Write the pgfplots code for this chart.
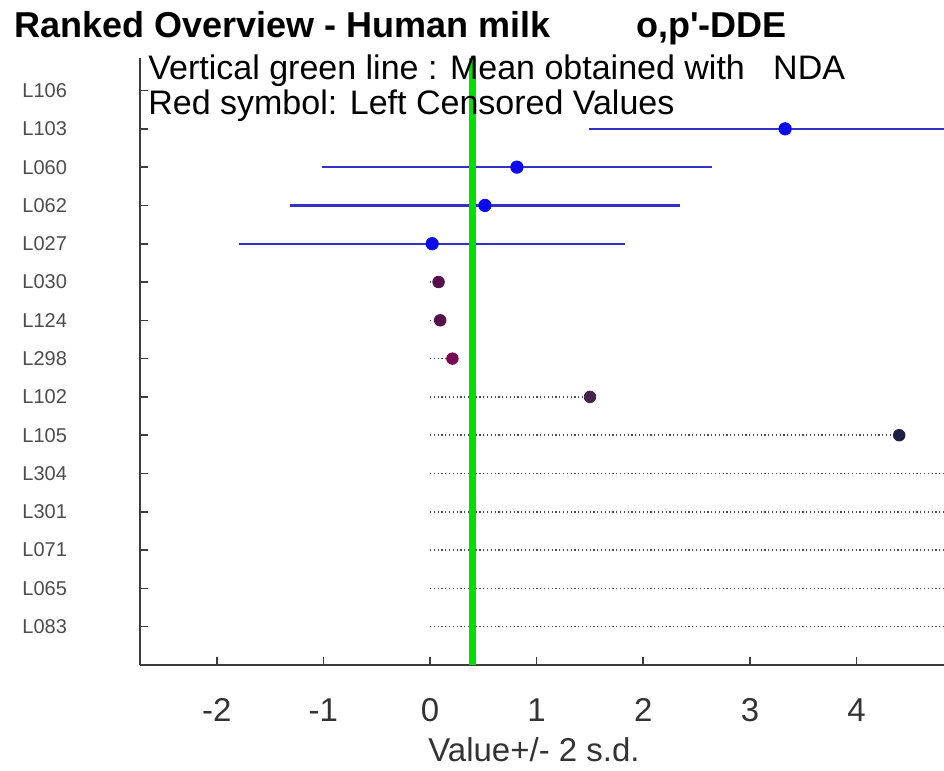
\documentclass[border=0pt]{standalone}
\usepackage{fontspec}
\setmainfont{Liberation Sans}
\usepackage{pgfplots}
\pgfplotsset{compat=1.18}
\definecolor{errblue}{RGB}{50,50,200}
\definecolor{mkblue}{RGB}{10,10,235}
\definecolor{mgreen}{RGB}{0,225,0}
\definecolor{cens1}{RGB}{85,15,75}
\definecolor{cens2}{RGB}{120,10,85}
\definecolor{cens3}{RGB}{65,35,75}
\definecolor{cens4}{RGB}{30,30,65}
\definecolor{axgray}{RGB}{60,60,60}
\pgfplotsset{cdot/.style={black!70, line width=0.8pt, dash pattern=on 0.55pt off 1.35pt}}
\begin{document}
\begin{tikzpicture}
\useasboundingbox (-70pt,-53pt) rectangle (402pt,332.5pt);
\begin{axis}[
  at={(0,0)}, anchor=south west,
  scale only axis, width=402pt, height=303.5pt,
  xmin=-2.72, xmax=4.82, ymin=-1, ymax=14.85,
  axis x line*=bottom, axis y line*=left,
  axis line style={axgray, line width=1pt},
  tick align=inside, major tick length=4pt,
  tick style={axgray, line width=0.8pt},
  xtick={-2,-1,0,1,2,3,4}, xticklabels={-2,-1,0,1,2,3,4},
  xticklabel style={font=\fontsize{16.5}{18}\selectfont, color=black!80, anchor=base, yshift=-28.5pt},
  ytick={0,...,14},
  yticklabels={L083,L065,L071,L301,L304,L105,L102,L298,L124,L030,L027,L062,L060,L103,L106},
  yticklabel style={font=\fontsize{10}{12}\selectfont, color=black!70, xshift=-33pt},
]
% left censored values: dotted lines from 0 to value
\addplot[cdot] coordinates {(0,9) (0.08,9)};
\addplot[cdot] coordinates {(0,8) (0.095,8)};
\addplot[cdot] coordinates {(0,7) (0.21,7)};
\addplot[cdot] coordinates {(0,6) (1.5,6)};
\addplot[cdot] coordinates {(0,5) (4.40,5)};
\addplot[cdot] coordinates {(0,4) (4.82,4)};
\addplot[cdot] coordinates {(0,3) (4.82,3)};
\addplot[cdot] coordinates {(0,2) (4.82,2)};
\addplot[cdot] coordinates {(0,1) (4.82,1)};
\addplot[cdot] coordinates {(0,0) (4.82,0)};
% +/- 2 s.d. bars
\addplot[draw=none, mark=none, error bars/.cd, x dir=both, x explicit, error mark=none,
  error bar style={draw=errblue, line width=1.1pt}]
  coordinates {(3.33,13) +- (1.84,0) (0.815,12) +- (1.83,0) (0.515,11) +- (1.83,0) (0.02,10) +- (1.81,0)};
% mean line
\addplot[mgreen, line width=3.8pt] coordinates {(0.40,-1) (0.40,14.85)};
% values
\addplot[only marks, mark=*, mark size=3.1pt, mkblue] coordinates {(3.33,13) (0.815,12) (0.515,11) (0.02,10)};
\addplot[only marks, mark=*, mark size=2.9pt, cens1] coordinates {(0.08,9) (0.095,8)};
\addplot[only marks, mark=*, mark size=2.9pt, cens2] coordinates {(0.21,7)};
\addplot[only marks, mark=*, mark size=2.9pt, cens3] coordinates {(1.5,6)};
\addplot[only marks, mark=*, mark size=2.9pt, cens4] coordinates {(4.40,5)};
\end{axis}
\node[anchor=base west, inner sep=0, font=\bfseries\fontsize{18}{20}\selectfont] at (-63pt,313.5pt) {Ranked Overview - Human milk};
\node[anchor=base west, inner sep=0, font=\bfseries\fontsize{18}{20}\selectfont] at (248pt,313.5pt) {o,p\textquotesingle-DDE};
\node[anchor=base west, inner sep=0, font=\fontsize{17}{19}\selectfont] at (4pt,292.5pt) {Vertical green line : Mean obtained with\hspace{0.834em}NDA};
\node[anchor=base west, inner sep=0, font=\fontsize{17}{19}\selectfont] at (4pt,275pt) {Red symbol: Left Censored Values};
\node[anchor=base west, inner sep=0, font=\fontsize{16.5}{18}\selectfont, text=black!80] at (144pt,-48.5pt) {Value+/- 2 s.d.};
\end{tikzpicture}
\end{document}
